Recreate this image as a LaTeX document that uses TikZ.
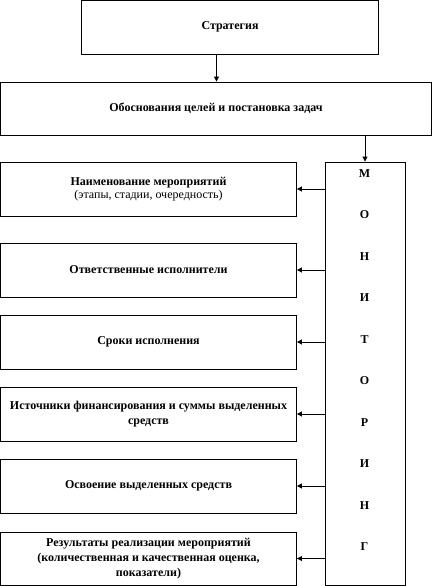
\documentclass[tikz,border=0pt]{standalone}
\usepackage{fontspec}
\setmainfont{Liberation Serif}
\usetikzlibrary{arrows.meta}
\begin{document}
\begin{tikzpicture}[x=1pt,y=-1pt,
  box/.style={draw,line width=0.9pt,inner sep=0pt,font=\fontsize{12}{15}\selectfont\bfseries,align=center},
  conn/.style={line width=0.9pt,-{Triangle[length=5pt,width=5pt]}},
  letter/.style={font=\fontsize{12}{13}\selectfont\bfseries,inner sep=0pt}]
\useasboundingbox (0,0) rectangle (433,586);
\node[box,minimum width=297pt,minimum height=54pt] (s) at (230,27) {Стратегия};
\node[box,minimum width=431pt,minimum height=53pt] (g) at (216,108.5) {Обоснования целей и постановка задач};
\node[draw,line width=0.9pt,minimum width=80pt,minimum height=423pt,inner sep=0pt] (m) at (365,373.5) {};
\node[box,minimum width=296pt,minimum height=54pt] (b1) at (148.5,189) {Наименование мероприятий\\[-2pt]{\mdseries (этапы, стадии, очередность)}};
\node[box,minimum width=296pt,minimum height=54pt] (b2) at (148.5,270) {Ответственные исполнители};
\node[box,minimum width=296pt,minimum height=54pt] (b3) at (148.5,342) {Сроки исполнения};
\node[box,minimum width=296pt,minimum height=54pt] (b4) at (148.5,414) {Источники финансирования и суммы выделенных\\средств};
\node[box,minimum width=296pt,minimum height=54pt] (b5) at (148.5,486) {Освоение выделенных средств};
\node[box,minimum width=296pt,minimum height=53pt] (b6) at (148.5,558.5) {Результаты реализации мероприятий\\(количественная и качественная оценка,\\показатели)};
\foreach \l/\y [count=\i] in {М/174,О/215,Н/257,И/298,Т/340,О/381,Р/423,И/464,Н/506,Г/547}
  \node[letter] (l\i) at (364.5,\y) {\l};
\coordinate (sg) at (216.5,0);
\draw[conn] (sg |- s.south) -- (sg |- g.north);
\coordinate (gm) at (g.south -| m.north);
\draw[conn] (gm) -- (m.north);
\foreach \b in {b1,b2,b3,b4,b5,b6}
  \draw[conn] (m.west |- \b.east) -- (\b.east);
\end{tikzpicture}
\end{document}
